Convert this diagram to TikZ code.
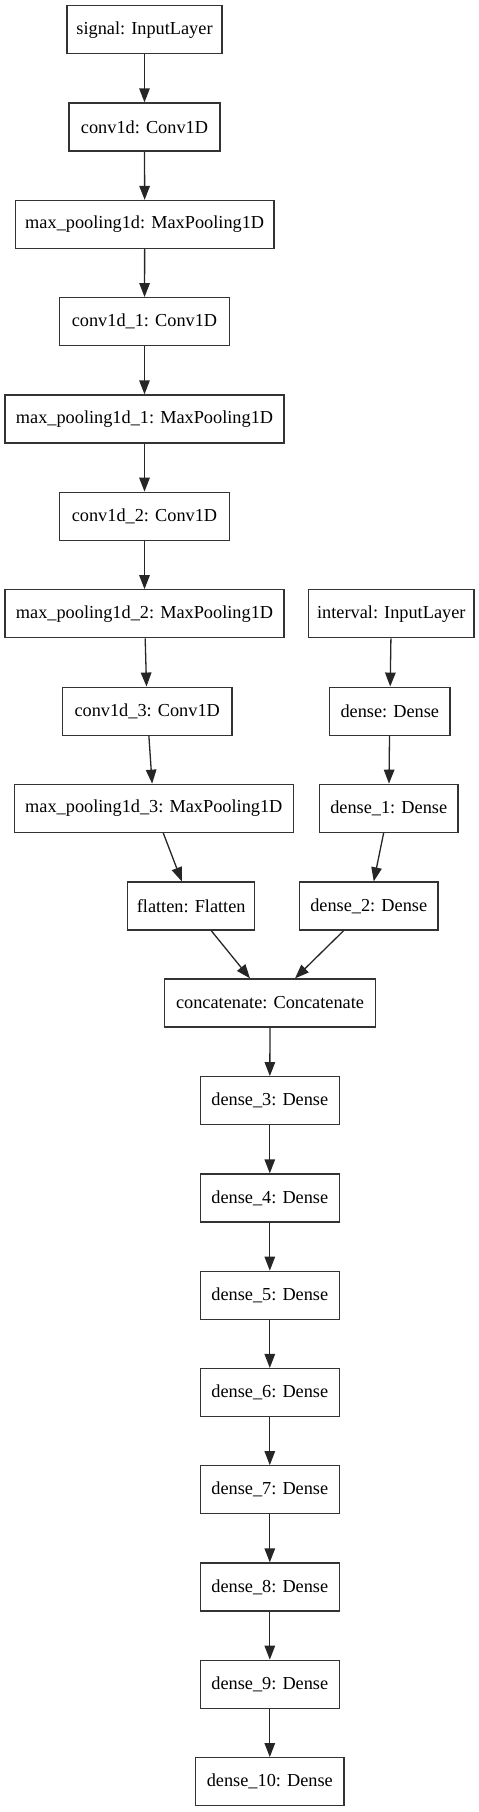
\documentclass[tikz,border=0pt]{standalone}
\usepackage{fontspec}
\setmainfont{Liberation Serif}
\usetikzlibrary{arrows.meta}
\begin{document}
\begin{tikzpicture}[x=1pt,y=1pt,
  layer/.style={draw=black!80, line width=1.3pt, minimum height=48pt, inner sep=0pt, font=\fontsize{18.3}{22}\selectfont},
  edge/.style={draw=black!85, line width=1.3pt, -{Triangle[length=14pt,width=10.5pt]}}]
\useasboundingbox (0,0) rectangle (479,-1812);
\node[layer, minimum width=155pt] (signal) at (144.5,-29.7) {signal: InputLayer};
\node[layer, minimum width=151pt] (c0) at (144.5,-127) {conv1d: Conv1D};
\node[layer, minimum width=258.7pt] (m0) at (144.7,-224.5) {max\_pooling1d: MaxPooling1D};
\node[layer, minimum width=169.6pt] (c1) at (144.5,-321.7) {conv1d\_1: Conv1D};
\node[layer, minimum width=279pt] (m1) at (144.5,-419) {max\_pooling1d\_1: MaxPooling1D};
\node[layer, minimum width=169.6pt] (c2) at (144.5,-516.3) {conv1d\_2: Conv1D};
\node[layer, minimum width=279pt] (m2) at (144.5,-613.8) {max\_pooling1d\_2: MaxPooling1D};
\node[layer, minimum width=165.3pt] (interval) at (391.3,-613.8) {interval: InputLayer};
\node[layer, minimum width=169.7pt] (c3) at (147.2,-711.2) {conv1d\_3: Conv1D};
\node[layer, minimum width=120.3pt] (d0) at (389.8,-711.2) {dense: Dense};
\node[layer, minimum width=279pt] (m3) at (153.8,-808.3) {max\_pooling1d\_3: MaxPooling1D};
\node[layer, minimum width=138.7pt] (d1) at (388.7,-808.3) {dense\_1: Dense};
\node[layer, minimum width=127pt] (flat) at (191.2,-906) {flatten: Flatten};
\node[layer, minimum width=138.7pt] (d2) at (368.7,-906) {dense\_2: Dense};
\node[layer, minimum width=210.6pt] (cat) at (270,-1003) {concatenate: Concatenate};
\node[layer, minimum width=139pt] (d3) at (269.8,-1100.7) {dense\_3: Dense};
\node[layer, minimum width=139pt] (d4) at (269.8,-1198) {dense\_4: Dense};
\node[layer, minimum width=139pt] (d5) at (269.8,-1295.3) {dense\_5: Dense};
\node[layer, minimum width=139pt] (d6) at (269.8,-1392.6) {dense\_6: Dense};
\node[layer, minimum width=139pt] (d7) at (269.8,-1489.8) {dense\_7: Dense};
\node[layer, minimum width=139pt] (d8) at (269.8,-1587) {dense\_8: Dense};
\node[layer, minimum width=139pt] (d9) at (269.8,-1684.3) {dense\_9: Dense};
\node[layer, minimum width=148.3pt] (d10) at (269.8,-1781.7) {dense\_10: Dense};
\foreach \a/\b in {signal/c0, c0/m0, m0/c1, c1/m1, m1/c2, c2/m2, m2/c3, c3/m3, m3/flat,
  interval/d0, d0/d1, d1/d2, flat/cat, d2/cat, cat/d3, d3/d4, d4/d5, d5/d6, d6/d7, d7/d8, d8/d9, d9/d10}
  \draw[edge] (\a) -- (\b);
\end{tikzpicture}
\end{document}
